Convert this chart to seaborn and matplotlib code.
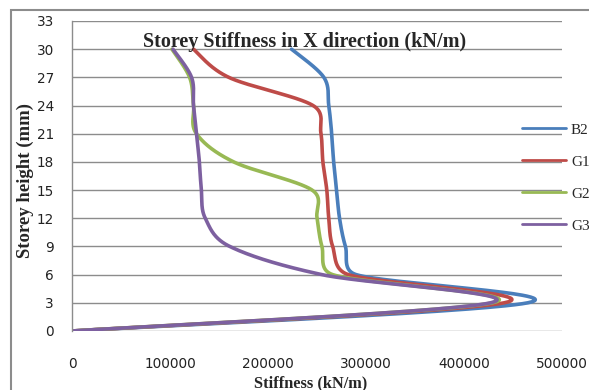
import numpy as np
import pandas as pd
import matplotlib
matplotlib.use("Agg")
import matplotlib.pyplot as plt
from matplotlib.lines import Line2D
from matplotlib.patches import Rectangle
import seaborn as sns

# Storey levels (m) and storey stiffness per model (kN/m)
storey_height = [0, 3, 6, 9, 12, 15, 18, 21, 24, 27, 30]
B2 = [0, 465000, 290000, 279000, 273000, 270000, 267000, 265000, 262000, 257000, 224000]
G1 = [0, 441000, 282000, 266000, 262000, 260000, 256000, 254000, 246000, 160000, 124000]
G2 = [0, 429000, 266000, 255000, 250000, 245000, 165000, 127000, 124000, 120000, 102000]
G3 = [0, 427000, 255000, 161000, 136000, 132000, 130000, 127000, 124000, 122000, 103000]
series_names = ["B2", "G1", "G2", "G3"]
series_values = [B2, G1, G2, G3]
colors = ["#4A7EBB", "#BE4B48", "#98B954", "#7D60A0"]
x_ticks = [0, 100000, 200000, 300000, 400000, 500000]
y_ticks = list(range(0, 34, 3))

W, H = 589, 390
AX_L, AX_R, AX_T, AX_B = 72, 562, 21, 331   # plot area in pixels
X_MAX, Y_MAX = 500000, 33
SX = (AX_R - AX_L) / X_MAX
SY = (AX_B - AX_T) / Y_MAX


def smooth_curve(xs, ys, n=60):
    """Bezier smoothing through every point, computed in screen space.
    Control arms are 1/6 of the neighbour chord, capped at half the segment length."""
    P = np.column_stack([np.asarray(xs, float) * SX, np.asarray(ys, float) * SY])
    parts = []
    for i in range(len(P) - 1):
        p0 = P[max(i - 1, 0)]
        p1 = P[i]
        p2 = P[i + 1]
        p3 = P[min(i + 2, len(P) - 1)]
        seg_len = np.linalg.norm(p2 - p1)
        a1 = (p2 - p0) / 6.0
        a2 = (p3 - p1) / 6.0
        for a in (a1, a2):
            la = np.linalg.norm(a)
            if la > seg_len / 2 and la > 0:
                a *= (seg_len / 2) / la
        c1 = p1 + a1
        c2 = p2 - a2
        t = np.linspace(0, 1, n)[:, None]
        seg = (1 - t) ** 3 * p1 + 3 * (1 - t) ** 2 * t * c1 + 3 * (1 - t) * t ** 2 * c2 + t ** 3 * p2
        parts.append(seg if i == 0 else seg[1:])
    pts = np.vstack(parts)
    return pts[:, 0] / SX, pts[:, 1] / SY


frames = []
for name, vals in zip(series_names, series_values):
    sx, sy = smooth_curve(vals, storey_height)
    frames.append(pd.DataFrame({"Stiffness": sx, "Height": sy, "Model": name}))
df = pd.concat(frames, ignore_index=True)

sns.set_style("white")
fig = plt.figure(figsize=(W / 100, H / 100), dpi=100)
ax = fig.add_axes([AX_L / W, (H - AX_B) / H, (AX_R - AX_L) / W, (AX_B - AX_T) / H])

sns.lineplot(data=df, x="Stiffness", y="Height", hue="Model", hue_order=series_names,
             palette=dict(zip(series_names, colors)), sort=False, estimator=None,
             linewidth=2.6, legend=False, ax=ax)

ax.set_xlim(0, X_MAX)
ax.set_ylim(0, Y_MAX)
ax.set_xticks(x_ticks)
ax.set_xticklabels([str(v) for v in x_ticks])
ax.set_yticks(y_ticks)
ax.set_yticklabels([str(v) for v in y_ticks])
ax.tick_params(axis="both", length=0, labelsize=9.8, colors="#222222")
ax.tick_params(axis="y", pad=13)
ax.tick_params(axis="x", pad=19)
for lab in ax.get_xticklabels() + ax.get_yticklabels():
    lab.set_fontfamily("DejaVu Sans")

ax.yaxis.grid(True, color="#8C8C8C", linewidth=1.0)
ax.xaxis.grid(False)
ax.set_axisbelow(True)
for side in ["top", "right", "bottom"]:
    ax.spines[side].set_visible(False)
ax.spines["left"].set_color("#8C8C8C")
ax.spines["left"].set_linewidth(1.0)

serif = ["Liberation Serif", "DejaVu Serif"]
ax.set_xlabel("Stiffness (kN/m)", fontfamily=serif, fontweight="bold", fontsize=11.8)
ax.set_ylabel("Storey height (mm)", fontfamily=serif, fontweight="bold", fontsize=13.5)
ax.xaxis.set_label_coords((311 - AX_L) / (AX_R - AX_L), -(383 - AX_B) / (AX_B - AX_T))
ax.yaxis.set_label_coords(-(AX_L - 25) / (AX_R - AX_L), (AX_B - 180) / (AX_B - AX_T))
ax.xaxis.label.set_va("center")
ax.yaxis.label.set_va("center")

fig.text(305 / W, 1 - 42 / H, "Storey Stiffness in X direction (kN/m)", ha="center", va="center",
         fontfamily=serif, fontweight="bold", fontsize=14.5)

handles = [Line2D([0], [0], color=c, lw=2.0) for c in colors]
ax.legend(handles, series_names, loc="upper left", bbox_to_anchor=(522 / W, 1 - 123 / H),
          bbox_transform=fig.transFigure, frameon=False, handlelength=2.85, handletextpad=0.35,
          labelspacing=1.2, borderaxespad=0, borderpad=0,
          prop={"family": serif, "size": 11})

# outer chart frame
fig.patches.append(Rectangle((11 / W, -0.1), 1.2, (1 - 10 / H) + 0.1, transform=fig.transFigure,
                             fill=False, edgecolor="#8C8C8C", linewidth=1.5))

fig.savefig("out.png", dpi=100)
